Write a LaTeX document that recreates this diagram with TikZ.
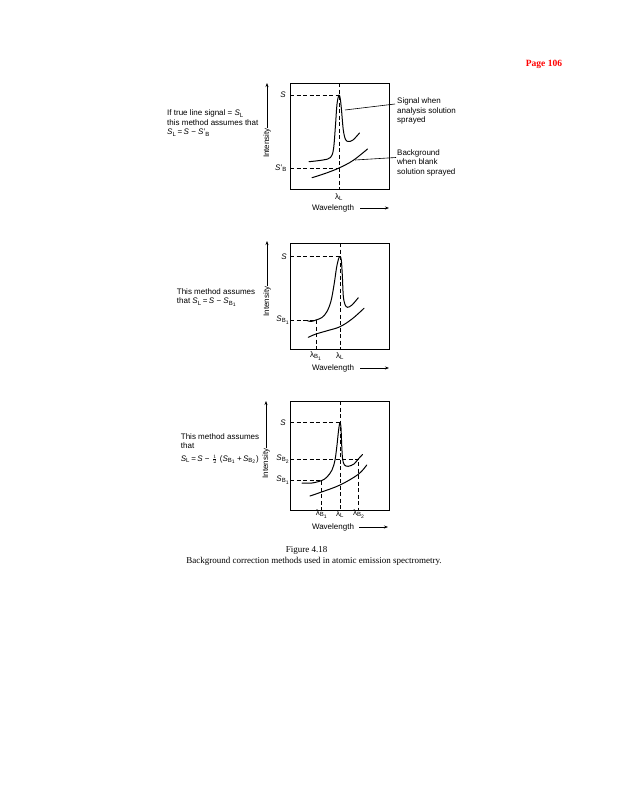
\documentclass[tikz,border=0pt]{standalone}
\usepackage{fontspec}
\setmainfont{Liberation Serif}
\setsansfont{Liberation Sans}
\usetikzlibrary{arrows.meta}
\tikzset{
  lbl/.style={font=\sffamily\fontsize{8}{9.5}\selectfont, inner sep=0pt},
  note/.style={lbl, align=left},
  frame/.style={draw=black, line width=0.9pt, inner sep=0pt, minimum width=99pt},
  trace/.style={line width=1pt, line join=round, line cap=round},
  guide/.style={line width=0.8pt, dash pattern=on 4pt off 2.5pt},
  callout/.style={line width=0.6pt},
  axarr/.style={-{Stealth[length=4pt,width=3pt]}, line width=0.7pt},
  caption/.style={font=\fontsize{9}{11}\selectfont, inner sep=0pt}
}

\begin{document}
\begin{tikzpicture}[x=1pt, y=-1pt]
  \useasboundingbox (0,0) rectangle (617,800);

  \node[font=\bfseries\fontsize{9.5}{11}\selectfont, text=red, inner sep=0pt] (page) at (544,64) {Page 106};

  % ---- Panel 1: background measured with blank solution ----
  \node[frame, minimum height=106pt, anchor=north west] (box1) at (290,83) {};
  \coordinate (peak1) at (339,95);
  \coordinate (bg1pt) at (339,168);

  \draw[guide] (box1.north -| peak1) -- (box1.south -| peak1);
  \draw[guide] (box1.west |- peak1) -- (peak1);
  \draw[guide] (box1.west |- bg1pt) -- (bg1pt);

  \draw[trace] plot[smooth, tension=0.55] coordinates {(309,161.7) (323,160) (330.5,157.5) (333.5,149)
    (335.5,125) (337,104) (peak1) (340.3,99) (341.5,110) (343.3,130) (345.5,139.5) (348.5,141.5) (353,140) (359.5,133)};
  \draw[trace] plot[smooth, tension=0.6] coordinates {(312,177.7) (325,173.5) (bg1pt) (353,160.5) (367.5,149)};

  \node[lbl] (s1) at (283,95) {\textit{S}};
  \node[lbl] (sb1) at (281,168) {\textit{S}'\textsubscript{B}};
  \node[lbl] (lam1) at (339,197) {λ\textsubscript{L}};
  \node[lbl] (wave1) at (333,208) {Wavelength};
  \coordinate (wave1end) at (389,208);
  \draw[axarr] ([xshift=6pt]wave1.east) -- (wave1end);
  \node[lbl, rotate=90] (int1) at (267,143) {Intensity};
  \coordinate (int1top) at (267,83);
  \draw[axarr] (int1.east) -- (int1top);

  \node[note, anchor=west] (sig1) at (397,111) {Signal when\\analysis solution\\sprayed};
  \coordinate (sig1tip) at (345,110);
  \draw[callout] (sig1tip) -- ([shift={(-2,-7)}]sig1.west);
  \node[note, anchor=west] (blank1) at (397,162.5) {Background\\when blank\\solution sprayed};
  \coordinate (blank1tip) at (355,160);
  \draw[callout] (blank1tip) -- ([shift={(-1,-5)}]blank1.west);

  \node[note, anchor=west] (cond1) at (167,123)
    {If true line signal = \textit{S}\textsubscript{L}\\this method assumes that\\\textit{S}\textsubscript{L}\,=\,\textit{S} − \textit{S}'\textsubscript{B}};

  % ---- Panel 2: background at one side of the line ----
  \node[frame, minimum height=106pt, anchor=north west] (box2) at (290,243) {};
  \coordinate (peak2) at (340,256.5);
  \coordinate (b1pt2) at (316,320);

  \draw[guide] (box2.north -| peak2) -- (box2.south -| peak2);
  \draw[guide] (box2.west |- peak2) -- (peak2);
  \draw[guide] (box2.west |- b1pt2) -- (b1pt2) -- (box2.south -| b1pt2);

  \draw[trace] plot[smooth, tension=0.55] coordinates {(307,320.5) (311,321.5) (b1pt2) (322,317.5) (327,311.5)
    (331,301) (334,285) (336.5,268) (338.5,259) (peak2) (341.3,260) (342.3,275) (343.3,296) (345,304.5) (347.5,307.3) (352,305) (358.3,297.7)};
  \draw[trace] plot[smooth, tension=0.6] coordinates {(308.3,337.3) (316,334) (328,330.5) (340,326.7) (352,319) (364,308.3)};

  \node[lbl] (s2) at (284,256.5) {\textit{S}};
  \node[lbl] (sb2) at (283,320) {\textit{S}\textsubscript{B\textsubscript{1}}};
  \node[lbl] (lamb2) at (316,356) {λ\textsubscript{B\textsubscript{1}}};
  \node[lbl] (lam2) at (340,356) {λ\textsubscript{L}};
  \node[lbl] (wave2) at (333,368) {Wavelength};
  \coordinate (wave2end) at (389,368);
  \draw[axarr] ([xshift=6pt]wave2.east) -- (wave2end);
  \node[lbl, rotate=90] (int2) at (267,301.5) {Intensity};
  \coordinate (int2top) at (267,241);
  \draw[axarr] (int2.east) -- (int2top);

  \node[note, anchor=west] (cond2) at (176.7,297.5)
    {This method assumes\\that \textit{S}\textsubscript{L}\,=\,\textit{S} − \textit{S}\textsubscript{B\textsubscript{1}}};

  % ---- Panel 3: background at both sides of the line ----
  \node[frame, minimum height=109pt, anchor=north west] (box3) at (290,401) {};
  \coordinate (peak3) at (340,422.5);
  \coordinate (b1pt3) at (321.7,480.5);
  \coordinate (b2pt3) at (358.3,459);

  \draw[guide] (box3.north -| peak3) -- (box3.south -| peak3);
  \draw[guide] (box3.west |- peak3) -- (peak3);
  \draw[guide] (box3.west |- b2pt3) -- (b2pt3) -- (box3.south -| b2pt3);
  \draw[guide] (box3.west |- b1pt3) -- (b1pt3) -- (box3.south -| b1pt3);

  \draw[trace] plot[smooth, tension=0.55] coordinates {(302,483) (312,483) (b1pt3) (327,477) (332,470)
    (335,460) (337,445) (338.6,430) (peak3) (341,428) (341.7,445) (342.6,459) (344.5,465) (348.3,466.3) (354,464) (b2pt3) (362.5,454.5)};
  \draw[trace] plot[smooth, tension=0.6] coordinates {(310,496) (320.7,492.3) (340,485) (358.3,474.3) (366.7,465)};

  \node[lbl] (s3) at (283,422.5) {\textit{S}};
  \node[lbl] (sb32) at (283,459) {\textit{S}\textsubscript{B\textsubscript{2}}};
  \node[lbl] (sb31) at (283,480) {\textit{S}\textsubscript{B\textsubscript{1}}};
  \node[lbl] (lamb31) at (321.7,514) {λ\textsubscript{B\textsubscript{1}}};
  \node[lbl] (lam3) at (340,514) {λ\textsubscript{L}};
  \node[lbl] (lamb32) at (359,514) {λ\textsubscript{B\textsubscript{2}}};
  \node[lbl] (wave3) at (333,527) {Wavelength};
  \coordinate (wave3end) at (388,527);
  \draw[axarr] ([xshift=5pt]wave3.east) -- (wave3end);
  \node[lbl, rotate=90] (int3) at (266,463.5) {Intensity};
  \coordinate (int3top) at (266,401);
  \draw[axarr] (int3.east) -- (int3top);

  \node[note, anchor=north west] (cond3) at (180.7,433)
    {This method assumes\\that\\[3pt]\textit{S}\textsubscript{L}\,=\,\textit{S} − ${\scriptstyle\frac{1}{2}}$ (\textit{S}\textsubscript{B\textsubscript{1}}\,+\,\textit{S}\textsubscript{B\textsubscript{2}})};

  % ---- Caption ----
  \node[caption] (fig) at (306.7,550) {Figure 4.18};
  \node[caption] (cap) at (314,561.7) {Background correction methods used in atomic emission spectrometry.};

\end{tikzpicture}
\end{document}
